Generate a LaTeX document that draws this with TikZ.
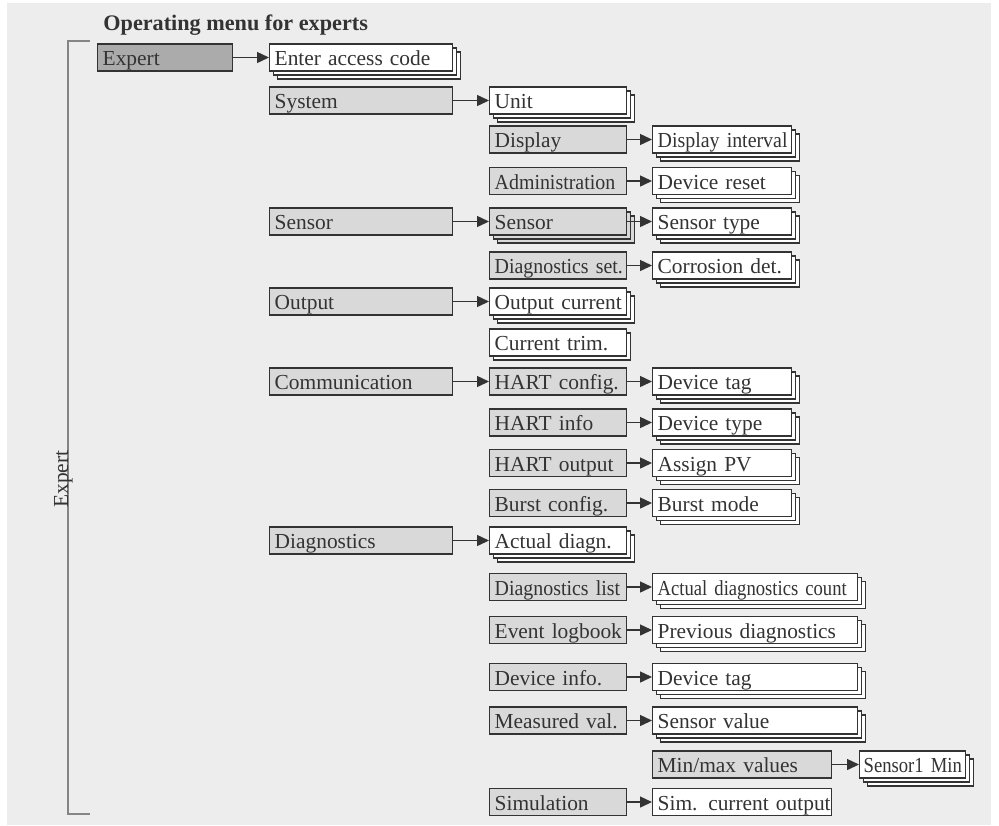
\documentclass[tikz,border=0pt]{standalone}
\usepackage{fontspec}
\setmainfont{Liberation Serif}
\newfontfamily\tightfont[FakeStretch=0.93]{Liberation Serif}
\newfontfamily\narrowfont[FakeStretch=0.87]{Liberation Serif}
\usetikzlibrary{arrows.meta, shadows}

\definecolor{bgpanel}{HTML}{EDEDED}
\definecolor{boxline}{HTML}{333333}
\definecolor{menudark}{HTML}{ABABAB}
\definecolor{menulight}{HTML}{D9D9D9}
\definecolor{bracketgrey}{HTML}{858585}

\begin{document}
\begin{tikzpicture}[x=0.5pt, y=-0.5pt,
    every node/.style={text=boxline, font=\fontsize{10.7}{12}\selectfont},
    item/.style={draw=boxline, line width=0.7pt, anchor=west, align=left,
        inner xsep=2.5pt, inner ysep=0pt, minimum height=13.5pt,
        text height=10.3pt, text depth=2.3pt,
        execute at begin node={\leavevmode\hbox\bgroup}, execute at end node={\egroup}},
    menu/.style={item, fill=menulight},
    topmenu/.style={item, fill=menudark},
    param/.style={item, fill=white},
    stack/.style={copy shadow={shadow xshift=4pt, shadow yshift=-4pt},
        copy shadow={shadow xshift=2pt, shadow yshift=-2pt}},
    stackone/.style={copy shadow={shadow xshift=2pt, shadow yshift=-2pt}},
    tight/.style={font=\tightfont\fontsize{10.7}{12}\selectfont},
    narrow/.style={font=\narrowfont\fontsize{10.7}{12}\selectfont},
    colA/.style={text width=62.5pt},
    colB/.style={text width=86.5pt},
    colC/.style={text width=63.5pt},
    colD/.style={text width=64.5pt},
    colE/.style={text width=97.5pt},
    colF/.style={text width=84.5pt},
    colG/.style={text width=49pt, inner xsep=2pt},
    arr/.style={-{Triangle[length=6pt, width=5.5pt]}, line width=0.7pt, draw=boxline}]
    \useasboundingbox (0,0) rectangle (999,825);
    \fill[bgpanel] (7,3) rectangle (991,825);
    \node[anchor=base west, inner sep=0pt, font=\bfseries\fontsize{11.1}{13}\selectfont] (title) at (103,30.5) {Operating menu for experts};
    \draw[bracketgrey, line width=0.75pt] (90,41) -- (68,41) -- (68,814) -- (90,814);
    \node[rotate=90, anchor=base, inner sep=0pt] (sidelabel) at (68,479) {Expert};

    \node[topmenu, colA] (expert) at (97,57.5) {Expert};
    \node[param, stack, colB] (access) at (269,57.5) {Enter access code};

    \node[menu, colB] (system) at (269,100.5) {System};
    \node[param, stack, colC] (unit) at (489,100.5) {Unit};
    \node[menu, colC] (display) at (489,139.5) {Display};
    \node[param, stack, colD, tight] (dispint) at (652,139.5) {Display interval};
    \node[menu, colC, tight] (admin) at (489,181) {Administration};
    \node[param, stack, colD] (devreset) at (652,181) {Device reset};

    \node[menu, colB] (sensor) at (269,221.5) {Sensor};
    \node[menu, stack, colC] (sensorsub) at (489,221.5) {Sensor};
    \node[param, stack, colD] (senstype) at (652,221.5) {Sensor type};
    \node[menu, colC, tight] (diagset) at (489,265.5) {Diagnostics set.};
    \node[param, stack, colD] (corrosion) at (652,265.5) {Corrosion det.};

    \node[menu, colB] (output) at (269,301.5) {Output};
    \node[param, stack, colC] (outcurr) at (489,301.5) {Output current};
    \node[param, stackone, colC] (curtrim) at (489,342.5) {Current trim.};

    \node[menu, colB] (comm) at (269,381.5) {Communication};
    \node[menu, colC] (hartcfg) at (489,381.5) {HART config.};
    \node[param, stack, colD] (devtag) at (652,381.5) {Device tag};
    \node[menu, colC] (hartinfo) at (489,422.5) {HART info};
    \node[param, stack, colD] (devtype) at (652,422.5) {Device type};
    \node[menu, colC] (hartout) at (489,463) {HART output};
    \node[param, stack, colD] (assignpv) at (652,463) {Assign PV};
    \node[menu, colC] (burstcfg) at (489,503) {Burst config.};
    \node[param, stack, colD] (burstmode) at (652,503) {Burst mode};

    \node[menu, colB] (diag) at (269,540.5) {Diagnostics};
    \node[param, stack, colC] (actdiag) at (489,540.5) {Actual diagn.};
    \node[menu, colC, tight] (diaglist) at (489,587) {Diagnostics list};
    \node[param, stack, colE, narrow] (diagcount) at (652,587) {Actual diagnostics count};
    \node[menu, colC] (logbook) at (489,630) {Event logbook};
    \node[param, stack, colE] (prevdiag) at (652,630) {Previous diagnostics};
    \node[menu, colC] (devinfo) at (489,677) {Device info.};
    \node[param, stack, colE] (devtagb) at (652,677) {Device tag};
    \node[menu, colC] (measval) at (489,720.5) {Measured val.};
    \node[param, stack, colE] (sensval) at (652,720.5) {Sensor value};
    \node[menu, colF] (minmax) at (652,764.5) {Min/max values};
    \node[param, stack, colG, narrow] (sensmin) at (859,764.5) {Sensor1 Min};
    \node[menu, colC] (simul) at (489,802) {Simulation};
    \node[param, colF] (simcurr) at (652,802) {Sim. current output};

    \draw[arr] (expert) -- (access);
    \draw[arr] (system) -- (unit);
    \draw[arr] (display) -- (dispint);
    \draw[arr] (admin) -- (devreset);
    \draw[arr] (sensor) -- (sensorsub);
    \draw[arr] (sensorsub) -- (senstype);
    \draw[arr] (diagset) -- (corrosion);
    \draw[arr] (output) -- (outcurr);
    \draw[arr] (comm) -- (hartcfg);
    \draw[arr] (hartcfg) -- (devtag);
    \draw[arr] (hartinfo) -- (devtype);
    \draw[arr] (hartout) -- (assignpv);
    \draw[arr] (burstcfg) -- (burstmode);
    \draw[arr] (diag) -- (actdiag);
    \draw[arr] (diaglist) -- (diagcount);
    \draw[arr] (logbook) -- (prevdiag);
    \draw[arr] (devinfo) -- (devtagb);
    \draw[arr] (measval) -- (sensval);
    \draw[arr] (minmax) -- (sensmin);
    \draw[arr] (simul) -- (simcurr);
\end{tikzpicture}
\end{document}
